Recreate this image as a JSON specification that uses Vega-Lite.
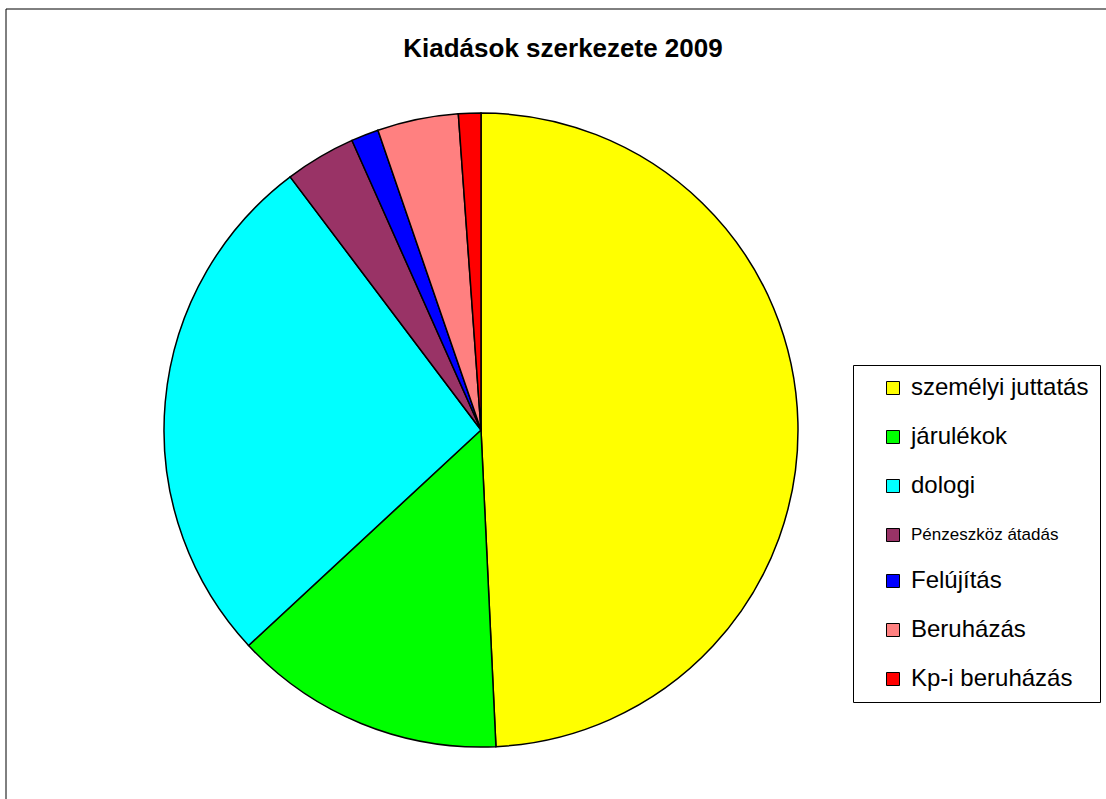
{
  "$schema": "https://vega.github.io/schema/vega-lite/v6.json",
  "autosize": "none",
  "width": 1102,
  "height": 792,
  "padding": {"left": 6, "top": 9, "right": -2, "bottom": -2},
  "background": "white",
  "config": {
    "view": {"stroke": "black", "strokeWidth": 1},
    "font": "Liberation Sans"
  },
  "title": {
    "text": "Kiadások szerkezete 2009",
    "font": "Liberation Sans",
    "fontSize": 26,
    "fontWeight": "bold",
    "color": "black",
    "anchor": "middle",
    "baseline": "alphabetic",
    "offset": -48,
    "dx": 6,
    "dy": 26
  },
  "data": {
    "values": [
      {"kategoria": "személyi juttatás", "arany": 49.25, "k": 1},
      {"kategoria": "járulékok", "arany": 13.85, "k": 2},
      {"kategoria": "dologi", "arany": 26.62, "k": 3},
      {"kategoria": "Pénzeszköz átadás", "arany": 3.61, "k": 4},
      {"kategoria": "Felújítás", "arany": 1.40, "k": 5},
      {"kategoria": "Beruházás", "arany": 4.13, "k": 6},
      {"kategoria": "Kp-i beruházás", "arany": 1.14, "k": 7}
    ]
  },
  "layer": [
    {
      "data": {"values": [{"keret": "chart"}]},
      "mark": {"type": "rect", "fill": null, "stroke": "black", "strokeWidth": 1},
      "encoding": {}
    },
    {
      "mark": {"type": "arc", "radius": 317, "stroke": "black", "strokeWidth": 1.5, "x": 475, "y": 421},
      "encoding": {
        "theta": {"field": "arany", "type": "quantitative", "stack": true},
        "order": {"field": "k", "type": "quantitative"},
        "color": {
          "field": "kategoria",
          "type": "nominal",
          "sort": null,
          "scale": {
            "domain": ["személyi juttatás", "járulékok", "dologi", "Pénzeszköz átadás", "Felújítás", "Beruházás", "Kp-i beruházás"],
            "range": ["#FFFF00", "#00FF00", "#00FFFF", "#993366", "#0000FF", "#FF8080", "#FF0000"]
          },
          "legend": {
            "title": null,
            "orient": "none",
            "legendX": 847,
            "legendY": 356,
            "padding": 11,
            "strokeColor": "black",
            "fillColor": "white",
            "symbolType": "square",
            "symbolSize": 169,
            "symbolStrokeColor": "black",
            "symbolStrokeWidth": 1,
            "symbolOffset": 17,
            "labelOffset": 6,
            "labelFont": "Liberation Sans",
            "labelFontSize": 24,
            "labelColor": "black",
            "labelLimit": 400,
            "rowPadding": 25,
            "encode": {
              "labels": {"update": {"fontSize": {"signal": "datum.value === 'Pénzeszköz átadás' ? 17 : 24"}}}
            }
          }
        }
      }
    }
  ]
}
